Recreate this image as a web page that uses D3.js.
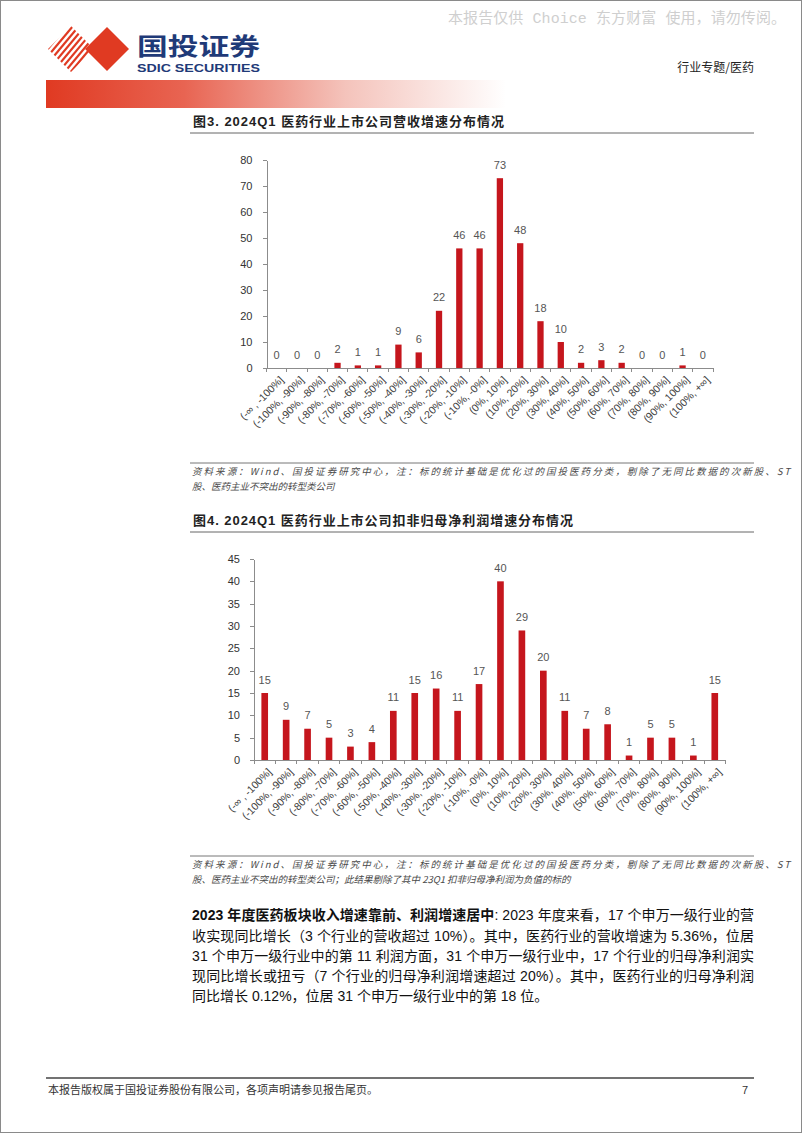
<!DOCTYPE html>
<html>
<head>
  <meta charset="utf-8">
  <title>医药行业增速分布</title>
  <style>
  body { margin: 0; background: #fff; }
  svg { display: block; }
  .axis path, .axis line { stroke: #8c8c8c; stroke-width: 1px; shape-rendering: crispEdges; }
  .axis text { fill: #333; font-size: 11px; font-family: "Liberation Sans", Arial, sans-serif; }
  .x-axis text { font-size: 10.5px; fill: #404040; }
  .val { fill: #555; font-size: 11px; text-anchor: middle; font-family: "Liberation Sans", Arial, sans-serif; }
  .bar { fill: #c5161d; }
  .note { fill: #4a4a4a; font-size: 9.5px; font-style: italic; font-family: "Noto Sans CJK SC", sans-serif; }
  .ttl { fill: #222; font-size: 13px; font-weight: bold; font-family: "Liberation Sans", "Noto Sans CJK SC", sans-serif; }
  .body { fill: #111; font-size: 14px; font-family: "Liberation Sans", "Noto Sans CJK SC", sans-serif; }
  </style>
</head>
<body>
  <div id="page"></div>
  <script src="https://cdn.jsdelivr.net/npm/d3@7/dist/d3.min.js"></script>
  <script>
  // bins shared by both charts
  var bins = ["(-\u221e , -100%]", "(-100%, -90%]", "(-90%, -80%]", "(-80%, -70%]", "(-70%, -60%]",
    "(-60%, -50%]", "(-50%, -40%]", "(-40%, -30%]", "(-30%, -20%]", "(-20%, -10%]", "(-10%, -0%]",
    "(0%, 10%]", "(10%, 20%]", "(20%, 30%]", "(30%, 40%]", "(40%, 50%]", "(50%, 60%]",
    "(60%, 70%]", "(70%, 80%]", "(80%, 90%]", "(90%, 100%]", "(100%, +\u221e]"];

  // fig 3: revenue growth, number of companies
  var revenueCounts = [0, 0, 0, 2, 1, 1, 9, 6, 22, 46, 46, 73, 48, 18, 10, 2, 3, 2, 0, 0, 1, 0];
  var revenueTicks = [0, 10, 20, 30, 40, 50, 60, 70, 80];

  // fig 4: net profit (excl. non-recurring) growth, number of companies
  var profitCounts = [15, 9, 7, 5, 3, 4, 11, 15, 16, 11, 17, 40, 29, 20, 11, 7, 8, 1, 5, 5, 1, 15];
  var profitTicks = [0, 5, 10, 15, 20, 25, 30, 35, 40, 45];

  var bodyLines = [
    "收实现同比增长（3 个行业的营收超过 10%）。其中，医药行业的营收增速为 5.36%，位居",
    "31 个申万一级行业中的第 11 利润方面，31 个申万一级行业中，17 个行业的归母净利润实",
    "现同比增长或扭亏（7 个行业的归母净利润增速超过 20%）。其中，医药行业的归母净利润",
    "同比增长 0.12%，位居 31 个申万一级行业中的第 18 位。"
  ];

  var W = 802, H = 1133;
  var svg = d3.select("#page").append("svg").attr("width", W).attr("height", H);

  // page frame
  svg.append("rect").attr("x", 0.5).attr("y", 0.5).attr("width", W - 1).attr("height", H - 1)
    .attr("fill", "#fff").attr("stroke", "#8a8a8a");

  // ---------- header ----------
  svg.append("text").attr("x", 448).attr("y", 23)
    .attr("textLength", 338).attr("lengthAdjust", "spacing")
    .style("font-family", "'Liberation Mono', 'Noto Sans CJK SC', monospace")
    .style("font-size", "15px").attr("fill", "#cfcfcf")
    .text("本报告仅供 Choice 东方财富 使用，请勿传阅。");

  var defs = svg.append("defs");
  var grad = defs.append("linearGradient").attr("id", "band");
  grad.append("stop").attr("offset", "0%").attr("stop-color", "#e03a22");
  grad.append("stop").attr("offset", "30%").attr("stop-color", "#e86452");
  grad.append("stop").attr("offset", "65%").attr("stop-color", "#f4c3bb");
  grad.append("stop").attr("offset", "100%").attr("stop-color", "#ffffff");
  svg.append("rect").attr("x", 46).attr("y", 80).attr("width", 460).attr("height", 28)
    .attr("fill", "url(#band)");

  // logo: striped diamond + solid diamond
  defs.append("clipPath").attr("id", "stripeClip")
    .append("polygon").attr("points", "48,49 71,26 94,49 71,72");
  var stripes = svg.append("g").attr("clip-path", "url(#stripeClip)");
  d3.range(-5, 8).forEach(function(i) {
    var o = i * 6;
    stripes.append("line")
      .attr("x1", 40 + o).attr("y1", 80).attr("x2", 90 + o).attr("y2", 20)
      .attr("stroke", "#e03a22").attr("stroke-width", 2.2);
  });
  svg.append("polygon").attr("points", "85,49 107,27 129,49 107,71").attr("fill", "#e03a22");

  svg.append("text").attr("x", 137).attr("y", 55)
    .attr("textLength", 123).attr("lengthAdjust", "spacingAndGlyphs")
    .style("font-family", "'Noto Sans CJK SC', sans-serif").style("font-weight", "bold")
    .style("font-size", "24px").attr("fill", "#1f3a78").text("国投证券");
  svg.append("text").attr("x", 137).attr("y", 72)
    .attr("textLength", 123).attr("lengthAdjust", "spacingAndGlyphs")
    .style("font-family", "'Liberation Sans', Arial, sans-serif").style("font-weight", "bold")
    .style("font-size", "11px").attr("fill", "#1f3a78").text("SDIC SECURITIES");

  svg.append("text").attr("x", 754).attr("y", 72).attr("text-anchor", "end")
    .style("font-family", "'Noto Sans CJK SC', sans-serif").style("font-size", "12px")
    .attr("fill", "#222").text("行业专题/医药");

  // ---------- chart builder ----------
  function drawChart(cfg) {
    var x = d3.scaleBand().domain(bins).range([cfg.x0, cfg.x1]).paddingInner(0).paddingOuter(0);
    var y = d3.scaleLinear().domain([0, d3.max(cfg.ticks)]).range([cfg.y0, cfg.yTop]);
    var g = svg.append("g");

    // title and rule
    g.append("text").attr("class", "ttl").attr("x", 193).attr("y", cfg.titleY)
      .attr("textLength", cfg.titleLen).attr("lengthAdjust", "spacing").text(cfg.title);
    g.append("line").attr("x1", 190).attr("x2", 754).attr("y1", cfg.titleY + 7).attr("y2", cfg.titleY + 7)
      .attr("stroke", "#666").attr("stroke-width", 1);

    // bars
    var bw = x.bandwidth() * 0.31;
    g.selectAll(".bar").data(cfg.values).enter().append("rect")
      .attr("class", "bar")
      .attr("x", function(d, i) { return x(bins[i]) + x.bandwidth() / 2 - bw / 2; })
      .attr("y", function(d) { return y(d); })
      .attr("width", bw)
      .attr("height", function(d) { return cfg.y0 - y(d); });

    g.selectAll(".val").data(cfg.values).enter().append("text")
      .attr("class", "val")
      .attr("x", function(d, i) { return x(bins[i]) + x.bandwidth() / 2; })
      .attr("y", function(d) { return y(d) - 9.5; })
      .text(function(d) { return d; });

    // y axis
    g.append("g").attr("class", "axis")
      .attr("transform", "translate(" + cfg.x0 + ",0)")
      .call(d3.axisLeft(y).tickValues(cfg.ticks).tickSize(4).tickPadding(10).tickSizeOuter(0));

    // x axis: ticks on the category boundaries
    var xa = g.append("g").attr("class", "axis x-axis")
      .attr("transform", "translate(0," + cfg.y0 + ")");
    xa.append("line").attr("x1", cfg.x0).attr("x2", cfg.x1);
    d3.range(bins.length + 1).forEach(function(i) {
      var bx = cfg.x0 + i * x.step();
      xa.append("line").attr("x1", bx).attr("x2", bx).attr("y1", 0).attr("y2", 4);
    });
    xa.selectAll(".lab").data(bins).enter().append("text")
      .attr("class", "lab")
      .attr("text-anchor", "end")
      .attr("transform", function(d) {
        return "translate(" + (x(d) + x.bandwidth() / 2 + 5) + ",10) rotate(-45)";
      })
      .attr("dy", "0.35em")
      .text(function(d) { return d; });

    // source notes
    g.append("line").attr("x1", 190).attr("x2", 754).attr("y1", cfg.noteY).attr("y2", cfg.noteY)
      .attr("stroke", "#777").attr("stroke-width", 1);
    cfg.notes.forEach(function(t, i) {
      var tx = g.append("text").attr("class", "note").attr("x", 192).attr("y", cfg.noteY + 11.5 + i * 15.5);
      if (i === 0) tx.attr("textLength", 598).attr("lengthAdjust", "spacing");
      tx.text(t);
    });
  }

  drawChart({
    title: "图3. 2024Q1 医药行业上市公司营收增速分布情况",
    titleY: 126, titleLen: 311,
    values: revenueCounts, ticks: revenueTicks,
    x0: 266.5, x1: 713, y0: 368, yTop: 160,
    noteY: 463,
    notes: ["资料来源：Wind、国投证券研究中心，注：标的统计基础是优化过的国投医药分类，剔除了无同比数据的次新股、ST",
            "股、医药主业不突出的转型类公司"]
  });

  drawChart({
    title: "图4. 2024Q1 医药行业上市公司扣非归母净利润增速分布情况",
    titleY: 525, titleLen: 380,
    values: profitCounts, ticks: profitTicks,
    x0: 254, x1: 725.5, y0: 760, yTop: 559,
    noteY: 856,
    notes: ["资料来源：Wind、国投证券研究中心，注：标的统计基础是优化过的国投医药分类，剔除了无同比数据的次新股、ST",
            "股、医药主业不突出的转型类公司；此结果剔除了其中 23Q1 扣非归母净利润为负值的标的"]
  });

  // ---------- body paragraph ----------
  var para = svg.append("g");
  var first = para.append("text").attr("class", "body").attr("x", 192).attr("y", 920)
    .attr("textLength", 562).attr("lengthAdjust", "spacing");
  first.append("tspan").style("font-weight", "bold").text("2023 年度医药板块收入增速靠前、利润增速居中");
  first.append("tspan").text(": 2023 年度来看，17 个申万一级行业的营");
  bodyLines.forEach(function(t, i) {
    var tx = para.append("text").attr("class", "body").attr("x", 192).attr("y", 940.5 + i * 20.3);
    if (i < bodyLines.length - 1) tx.attr("textLength", 562).attr("lengthAdjust", "spacing");
    tx.text(t);
  });

  // ---------- footer ----------
  svg.append("line").attr("x1", 46).attr("x2", 754).attr("y1", 1078).attr("y2", 1078)
    .attr("stroke", "#444").attr("stroke-width", 1.6);
  svg.append("text").attr("x", 48).attr("y", 1094)
    .style("font-family", "'Noto Sans CJK SC', sans-serif").style("font-size", "11px").attr("fill", "#333")
    .text("本报告版权属于国投证券股份有限公司，各项声明请参见报告尾页。");
  svg.append("text").attr("x", 742).attr("y", 1094)
    .style("font-family", "'Liberation Sans', Arial, sans-serif").style("font-size", "11px").attr("fill", "#333")
    .text("7");
  </script>
</body>
</html>
